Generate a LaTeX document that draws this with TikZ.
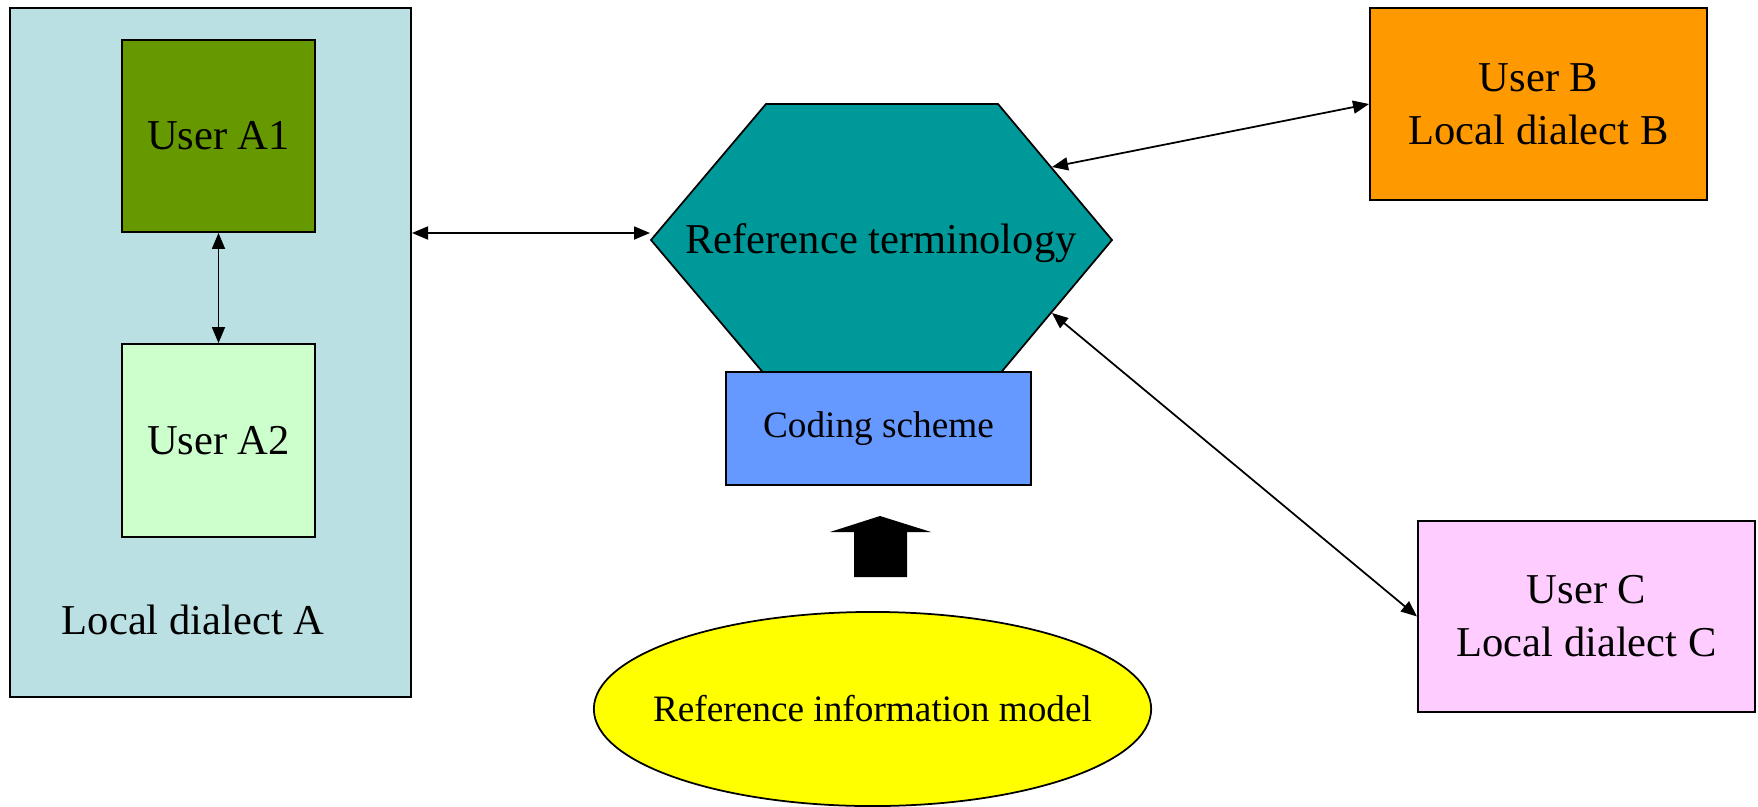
\documentclass[tikz,border=0pt]{standalone}
\usepackage{fontspec}
\setmainfont{Liberation Serif}
\usetikzlibrary{arrows.meta,shapes.geometric}
\definecolor{boxA}{HTML}{BBE0E3}
\definecolor{userAone}{HTML}{669900}
\definecolor{userAtwo}{HTML}{CCFFCC}
\definecolor{hexcol}{HTML}{009999}
\definecolor{codecol}{HTML}{6699FF}
\definecolor{rimcol}{HTML}{FFFF00}
\definecolor{userBcol}{HTML}{FF9900}
\definecolor{userCcol}{HTML}{FFCCFF}
\tikzset{
  bigtext/.style={font=\fontsize{12.1}{15.1}\selectfont, align=center},
  smalltext/.style={font=\fontsize{10.6}{13}\selectfont},
  boxstyle/.style={draw=black, line width=0.5pt, inner sep=0pt, bigtext},
  conn/.style={line width=0.5pt, {Triangle[length=0.16cm,width=0.13cm]}-{Triangle[length=0.16cm,width=0.13cm]}},
}
\begin{document}
\begin{tikzpicture}[x=0.01cm,y=-0.01cm]
\useasboundingbox (0,0) rectangle (1758,806);
% left container
\node[boxstyle, fill=boxA, minimum width=4.01cm, minimum height=6.89cm] (Abox) at (210.5,352.5) {};
\node[boxstyle, fill=userAone, minimum width=1.93cm, minimum height=1.92cm] (A1) at (218.5,136) {User A1};
\node[boxstyle, fill=userAtwo, minimum width=1.93cm, minimum height=1.93cm] (A2) at (218.5,440.5) {User A2};
\node[bigtext, inner sep=0pt] (LA) at (193,620) {Local dialect A};
% hexagon
\draw[fill=hexcol, line width=0.5pt] (651,240) -- (766,104) -- (998,104) -- (1112,240) -- (998,376) -- (766,376) -- cycle;
\node[bigtext, inner sep=0pt] (RT) at (881,243) {Reference terminology};
\coordinate (hexL) at (650,233);
\coordinate (hexB) at (1052,167);
\coordinate (hexC) at (1052,313);
% coding scheme
\node[draw=black, line width=0.5pt, fill=codecol, minimum width=3.05cm, minimum height=1.13cm, inner sep=0pt, smalltext] (CS) at (878.5,428.5) {Coding scheme};
% block arrow
\fill[black] (880,516) -- (931,532) -- (907,532) -- (907,577) -- (854,577) -- (854,532) -- (830,532) -- cycle;
% ellipse
\node[ellipse, draw=black, line width=0.5pt, fill=rimcol, minimum width=5.57cm, minimum height=1.94cm, inner sep=0pt, outer sep=0pt] (RIM) at (872.5,709) {};
\node[inner sep=0pt, smalltext] (RIMtext) at (RIM.center) {Reference information model};
% user B and C
\node[boxstyle, fill=userBcol, minimum width=3.37cm, minimum height=1.92cm] (UB) at (1538.5,104) {User B\\Local dialect B};
\node[boxstyle, fill=userCcol, minimum width=3.37cm, minimum height=1.91cm] (UC) at (1586.5,616.5) {User C\\Local dialect C};
% connectors
\draw[conn] (A1.south) -- (A2.north);
\draw[conn] (Abox.east |- hexL) -- (hexL);
\draw[conn] (hexB) -- (UB.west);
\draw[conn] (hexC) -- (UC.west);
\end{tikzpicture}
\end{document}
